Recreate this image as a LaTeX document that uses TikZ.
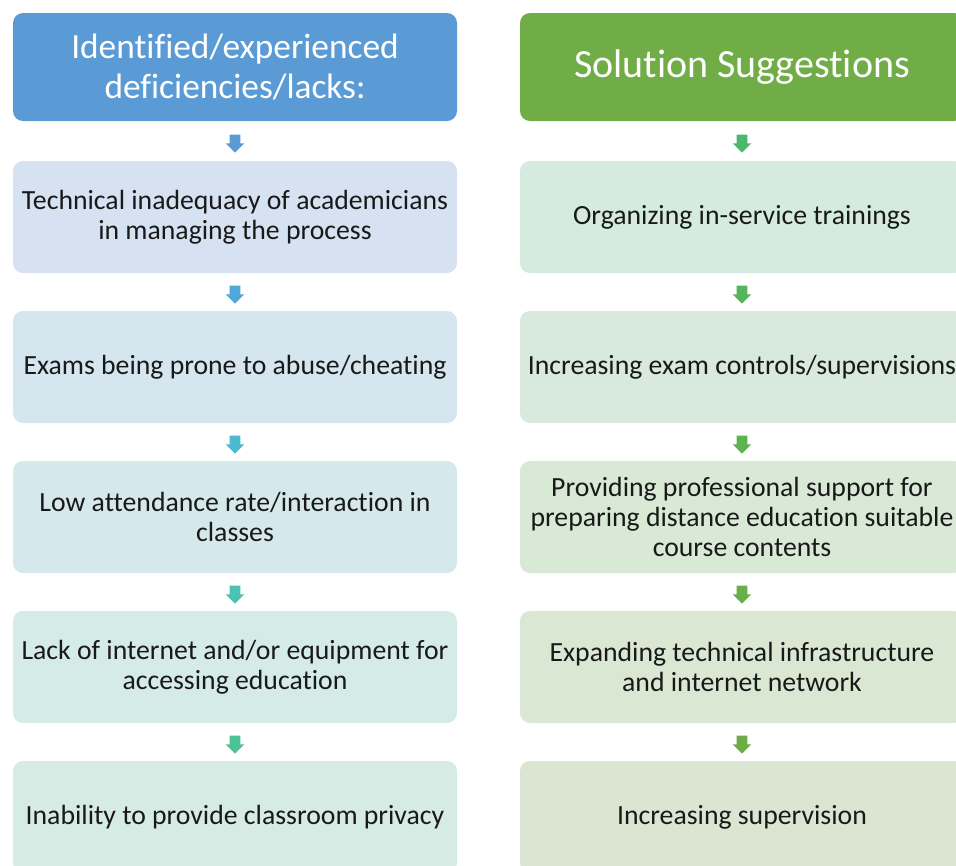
\documentclass[tikz,border=0pt]{standalone}
\usepackage{fontspec}
\setmainfont[Ligatures=NoCommon]{Carlito}
\usetikzlibrary{calc,shapes.arrows}

% column colours
\definecolor{lhead}{HTML}{5B9BD5}
\definecolor{rhead}{HTML}{70AD47}
\definecolor{lfill1}{HTML}{D6E2F1}
\definecolor{lfill2}{HTML}{D5E6EF}
\definecolor{lfill3}{HTML}{D5E8EC}
\definecolor{lfill4}{HTML}{D5EBE7}
\definecolor{lfill5}{HTML}{D5EBE3}
\definecolor{rfill1}{HTML}{D5EBDF}
\definecolor{rfill2}{HTML}{D7EADB}
\definecolor{rfill3}{HTML}{D8E9D6}
\definecolor{rfill4}{HTML}{D9E7D3}
\definecolor{rfill5}{HTML}{DAE5D2}
\definecolor{larr1}{HTML}{5B9BD5}
\definecolor{larr2}{HTML}{4EA9D8}
\definecolor{larr3}{HTML}{4CB9CE}
\definecolor{larr4}{HTML}{4DC2B3}
\definecolor{larr5}{HTML}{4DC297}
\definecolor{rarr1}{HTML}{4CB86B}
\definecolor{rarr2}{HTML}{56B55C}
\definecolor{rarr3}{HTML}{5EB251}
\definecolor{rarr4}{HTML}{68AF48}
\definecolor{rarr5}{HTML}{6EAD46}

\tikzset{
  headbox/.style={rounded corners=7.5pt, minimum width=333pt, minimum height=81pt,
    inner sep=0pt, align=center, text=white, font=\fontsize{26.5}{29.3}\selectfont},
  itembox/.style={rounded corners=7.5pt, minimum width=333pt, minimum height=84pt,
    inner sep=0pt, align=center, text=black!90, font=\fontsize{20.8}{22.5}\selectfont},
  downarrow/.style={single arrow, rotate=-90, inner xsep=0pt, inner ysep=3.75pt,
    minimum height=13.5pt, minimum width=13.5pt, single arrow head extend=3pt}
}

\begin{document}
\begin{tikzpicture}[x=0.75pt,y=-0.75pt]
  \useasboundingbox (0,0) rectangle (956,865);
  \begin{scope}
    \clip (0,0) rectangle (956,865);
    % headers
    \node[headbox, fill=lhead] (l0) at (235,67) {Identified/experienced\\deficiencies/lacks:};
    \node[headbox, fill=rhead, font=\fontsize{30}{33}\selectfont] (r0) at (742,67) {Solution Suggestions};
    % left column
    \foreach \i/\txt in {1/{Technical inadequacy of academicians\\in managing the process},
        2/{Exams being prone to abuse/cheating},
        3/{Low attendance rate/interaction in\\classes},
        4/{Lack of internet and/or equipment for\\accessing education},
        5/{Inability to provide classroom privacy}}
      \node[itembox, fill=lfill\i] (l\i) at (235,67+150*\i) {\txt};
    % right column
    \foreach \i/\txt in {1/{Organizing in-service trainings},
        2/{Increasing exam controls/supervisions},
        3/{Providing professional support for\\preparing distance education suitable\\course contents},
        4/{Expanding technical infrastructure\\and internet network},
        5/{Increasing supervision}}
      \node[itembox, fill=rfill\i] (r\i) at (742,67+150*\i) {\txt};
    % block arrows between the boxes
    \foreach \i in {1,...,5}{
      \pgfmathtruncatemacro{\j}{\i-1}
      \node[downarrow, fill=larr\i] (la\i) at ($(l\j.south)!0.5!(l\i.north)$) {};
      \node[downarrow, fill=rarr\i] (ra\i) at ($(r\j.south)!0.5!(r\i.north)$) {};
    }
  \end{scope}
\end{tikzpicture}
\end{document}
